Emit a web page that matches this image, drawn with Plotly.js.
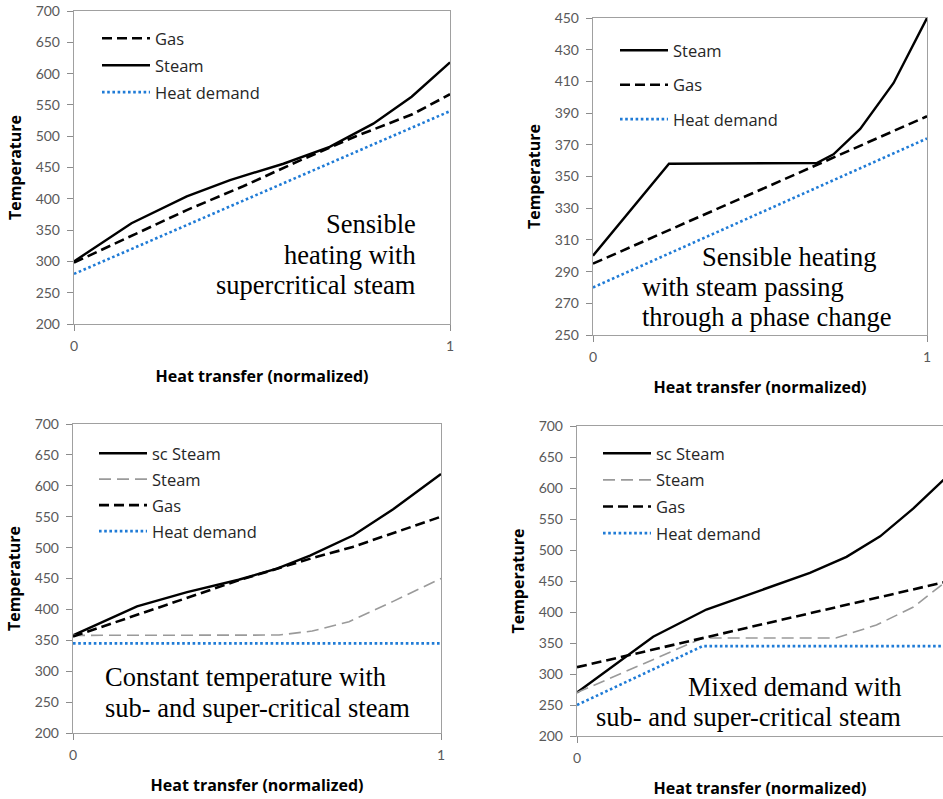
<!DOCTYPE html>
<html>
<head>
<meta charset="utf-8">
<script src="https://cdn.plot.ly/plotly-3.0.1.min.js"></script>
<style>html,body{margin:0;padding:0;background:#fff;}#chart{width:943px;height:799px;}</style>
</head>
<body>
<div id="chart"></div>
<script>
// ---- Panel 1: Sensible heating with supercritical steam ----
const p1GasX = [0, 0.15, 0.3, 0.45, 0.6, 0.75, 0.9, 1];
const p1Gas = [298, 340, 382, 420, 461, 500, 535, 567];
const p1SteamX = [0, 0.153, 0.30, 0.415, 0.557, 0.68, 0.796, 0.898, 1];
const p1Steam = [300, 361, 404, 430, 456, 483, 520, 563, 618];
const p1DemandX = [0, 1];
const p1Demand = [280, 540];

// ---- Panel 2: Sensible heating with steam passing through a phase change ----
const p2SteamX = [0, 0.2275, 0.67, 0.72, 0.8, 0.9, 1];
const p2Steam = [300, 358, 358.5, 364, 380, 409, 450];
const p2GasX = [0, 1];
const p2Gas = [295, 388];
const p2DemandX = [0, 1];
const p2Demand = [280, 374];

// ---- Panel 3: Constant temperature ----
const p3ScSteamX = [0, 0.174, 0.31, 0.45, 0.554, 0.644, 0.762, 0.87, 1];
const p3ScSteam = [358, 405, 428, 448, 466, 487, 520, 562, 619];
const p3SteamX = [0, 0.56, 0.65, 0.75, 0.87, 1];
const p3Steam = [358, 358.5, 365, 380, 413, 450];
const p3GasX = [0, 0.17, 0.45, 0.65, 0.76, 1];
const p3Gas = [356, 390, 447, 483, 501, 550];
const p3DemandX = [0, 1];
const p3Demand = [345, 345];

// ---- Panel 4: Mixed demand ----
const p4ScSteamX = [0, 0.206, 0.35, 0.449, 0.63, 0.729, 0.82, 0.91, 1];
const p4ScSteam = [270, 360, 404, 425, 463, 489, 522, 567, 618];
const p4SteamX = [0, 0.34, 0.70, 0.81, 0.91, 1];
const p4Steam = [270, 358, 358, 379, 408, 450];
const p4GasX = [0, 1];
const p4Gas = [311, 449];
const p4DemandX = [0, 0.34, 1];
const p4Demand = [250, 345, 345];

// tick labels
const xTicks = [0, 1];
const yTicksA = [200, 250, 300, 350, 400, 450, 500, 550, 600, 650, 700];
const yTicksB = [250, 270, 290, 310, 330, 350, 370, 390, 410, 430, 450];

const W = 943, H = 799;
const px = v => v / W;
const py = v => 1 - v / H;

const BLUE = '#1f7bd6';
const gasLine = {color: '#000', width: 2.6, dash: '10px,5px'};
const steamLine = {color: '#000', width: 2.4};
const demandLine = {color: BLUE, width: 2.6, dash: '2.6px,2.6px'};
const greyLine = {color: '#9a9a9a', width: 1.6, dash: '12px,6px'};

function tr(x, y, name, line, ax, leg, grp) {
  return {x: x, y: y, name: name, mode: 'lines', line: line,
    xaxis: 'x' + ax, yaxis: 'y' + ax, legend: leg, legendgroup: grp, hoverinfo: 'skip'};
}

const data = [
  tr(p1GasX, p1Gas, 'Gas', gasLine, '', 'legend', 'a1'),
  tr(p1SteamX, p1Steam, 'Steam', steamLine, '', 'legend', 'a2'),
  tr(p1DemandX, p1Demand, 'Heat demand', demandLine, '', 'legend', 'a3'),

  tr(p2SteamX, p2Steam, 'Steam', steamLine, '2', 'legend2', 'b1'),
  tr(p2GasX, p2Gas, 'Gas', gasLine, '2', 'legend2', 'b2'),
  tr(p2DemandX, p2Demand, 'Heat demand', demandLine, '2', 'legend2', 'b3'),

  tr(p3ScSteamX, p3ScSteam, 'sc Steam', steamLine, '3', 'legend3', 'c1'),
  tr(p3SteamX, p3Steam, 'Steam', greyLine, '3', 'legend3', 'c2'),
  tr(p3GasX, p3Gas, 'Gas', gasLine, '3', 'legend3', 'c3'),
  tr(p3DemandX, p3Demand, 'Heat demand', demandLine, '3', 'legend3', 'c4'),

  tr(p4ScSteamX, p4ScSteam, 'sc Steam', steamLine, '4', 'legend4', 'd1'),
  tr(p4SteamX, p4Steam, 'Steam', greyLine, '4', 'legend4', 'd2'),
  tr(p4GasX, p4Gas, 'Gas', gasLine, '4', 'legend4', 'd3'),
  tr(p4DemandX, p4Demand, 'Heat demand', demandLine, '4', 'legend4', 'd4'),
];

const tickFont = {family: 'Lato, "Liberation Sans", sans-serif', size: 14, color: '#595959'};
const titleFont = {family: '"Open Sans", Lato, sans-serif', size: 16, color: '#000', weight: 'bold'};

function xax(d0, d1, yanchor, range) {
  return {domain: [px(d0), px(d1)], anchor: yanchor, range: range || [0, 1],
    tickvals: xTicks, ticktext: xTicks.map(String), ticks: 'outside', ticklen: 6, tickcolor: '#8c8c8c',
    tickfont: tickFont, ticklabelstandoff: 3,
    showline: true, mirror: true, linecolor: '#a0a0a0', linewidth: 1.2, showgrid: false, zeroline: false,
    title: {text: 'Heat transfer (normalized)', font: titleFont, standoff: 17}};
}
function yax(d0, d1, xanchor, ticks, range) {
  return {domain: [py(d1), py(d0)], anchor: xanchor, range: range,
    tickvals: ticks, ticktext: ticks.map(String), ticks: 'outside', ticklen: 6, tickcolor: '#8c8c8c',
    tickfont: tickFont, ticklabelstandoff: 4,
    showline: true, mirror: true, linecolor: '#a0a0a0', linewidth: 1.2, showgrid: false, zeroline: false,
    title: {text: 'Temperature', font: titleFont, standoff: 10}};
}

function legend(xp, yp, gap) {
  return {x: px(xp), y: py(yp), xanchor: 'left', yanchor: 'top', bgcolor: 'rgba(0,0,0,0)',
    font: {family: '"Open Sans", Lato, sans-serif', size: 16.5, color: '#262626'},
    itemwidth: 48, tracegroupgap: gap, traceorder: 'grouped'};
}

const serif = {family: '"Liberation Serif", "Times New Roman", serif', size: 26.5, color: '#000'};

function txt(x, y, anchor, text) {
  return {xref: 'paper', yref: 'paper', x: px(x), y: py(y), xanchor: anchor, yanchor: 'middle',
    text: text, showarrow: false, font: serif};
}

const layout = {
  width: W, height: H, margin: {l: 0, r: 0, t: 0, b: 0},
  paper_bgcolor: '#fff', plot_bgcolor: '#fff', showlegend: true,
  xaxis: xax(74, 450, 'y'),
  yaxis: yax(11, 324, 'x', yTicksA, [200, 700]),
  xaxis2: xax(593, 927, 'y2'),
  yaxis2: yax(18, 335, 'x2', yTicksB, [250, 450]),
  xaxis3: xax(73, 441, 'y3'),
  yaxis3: yax(424, 733, 'x3', yTicksA, [200, 700]),
  xaxis4: xax(577, 943, 'y4', [0, 0.99]),
  yaxis4: yax(426, 736, 'x4', yTicksA, [200, 700]),
  legend: legend(97, 21, 2.5),
  legend2: legend(615, 33, 10),
  legend3: legend(94, 436, 1.5),
  legend4: legend(598, 436, 2.2),
  annotations: [
    txt(418, 224, 'right', 'Sensible'),
    txt(418, 255, 'right', 'heating with'),
    txt(418, 285, 'right', 'supercritical steam'),
    txt(700, 257, 'left', 'Sensible heating'),
    txt(640, 287, 'left', 'with steam passing'),
    txt(640, 317, 'left', 'through a phase change'),
    txt(103, 677, 'left', 'Constant temperature with'),
    txt(103, 708, 'left', 'sub- and super-critical steam'),
    txt(903, 687, 'right', 'Mixed demand with'),
    txt(903, 717, 'right', 'sub- and super-critical steam'),
  ]
};

Plotly.newPlot('chart', data, layout, {staticPlot: true, displayModeBar: false});
</script>
</body>
</html>
